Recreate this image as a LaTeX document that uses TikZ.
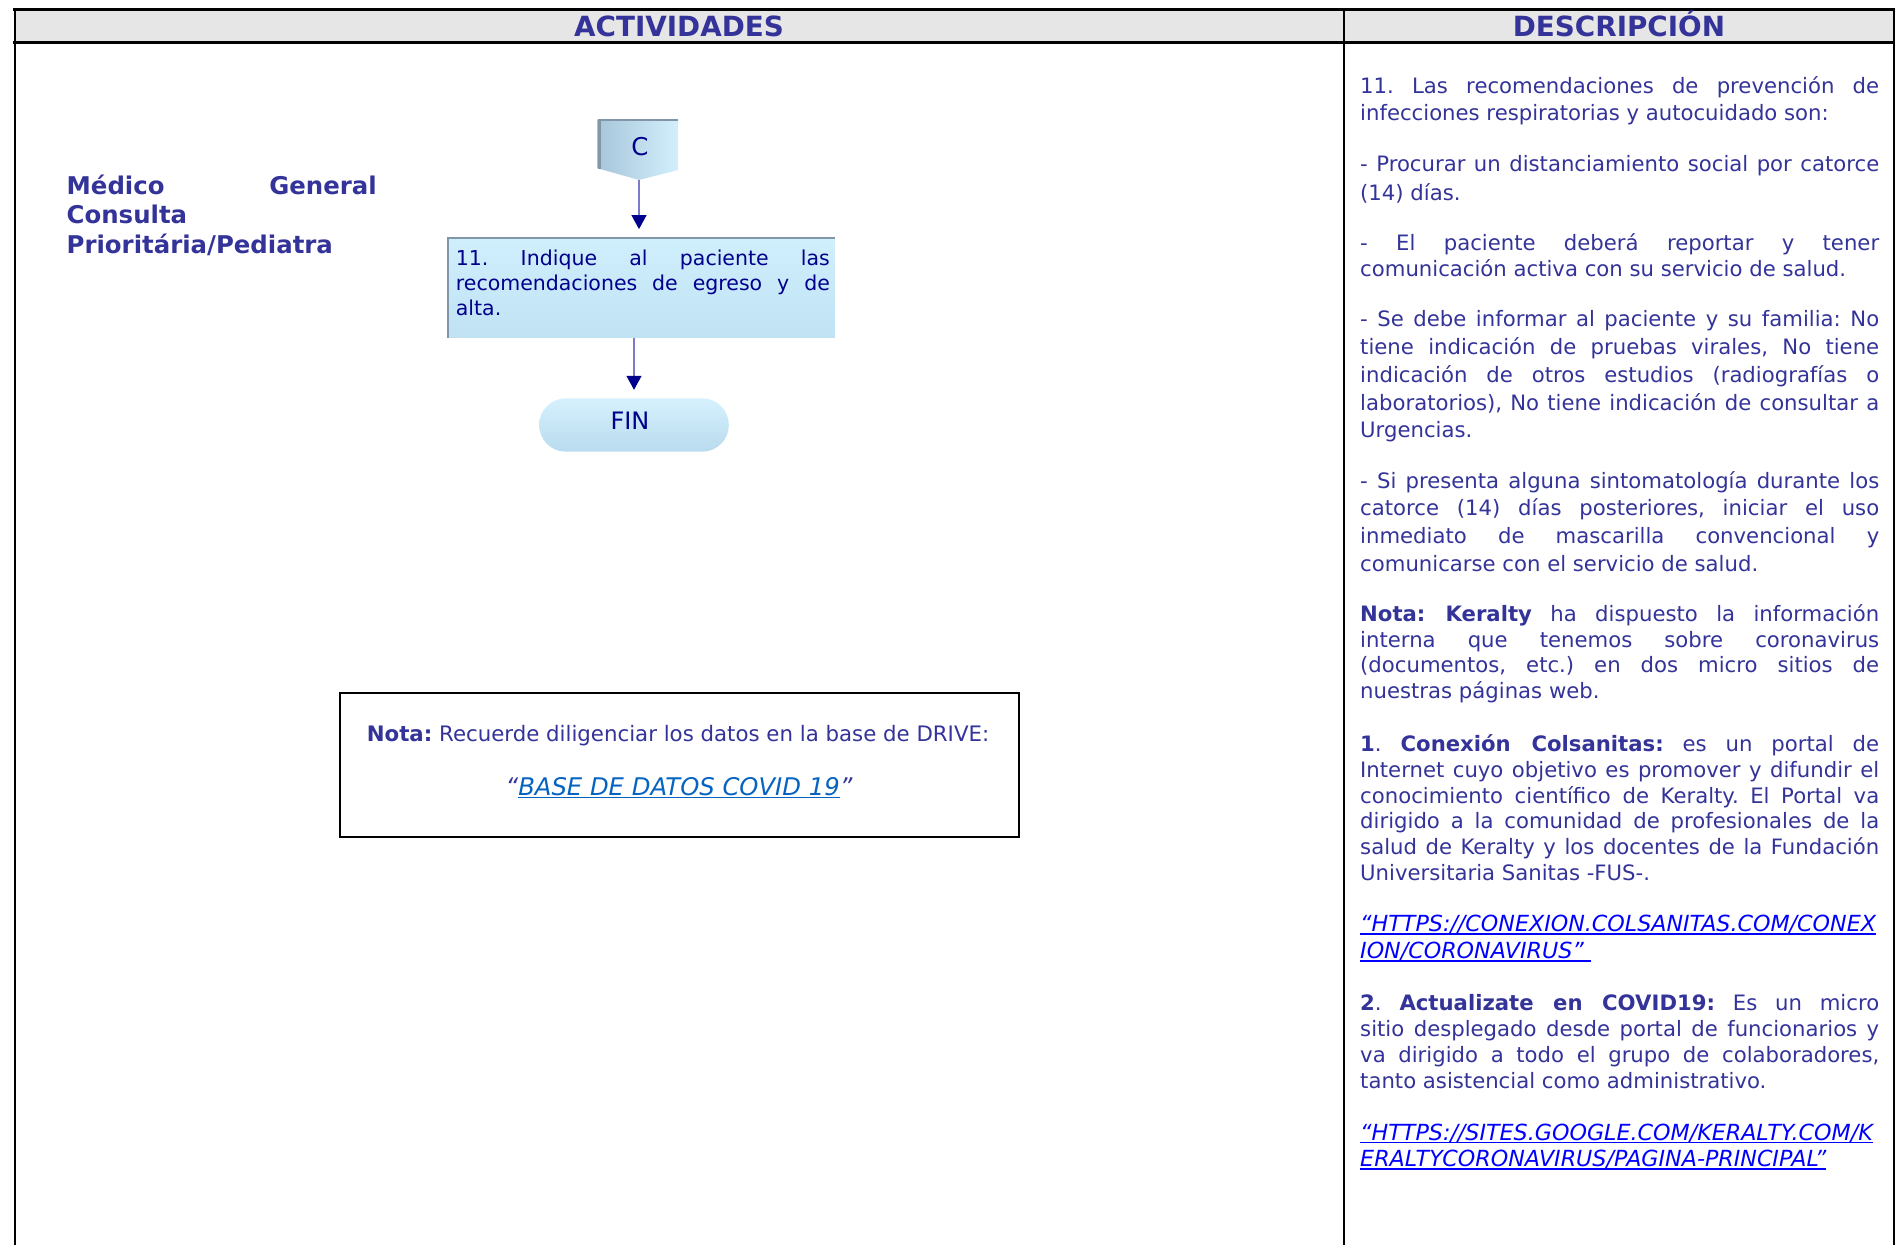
\documentclass[tikz,border=0pt]{standalone}
\usepackage{fontspec}
\setmainfont{DejaVu Sans}
\usetikzlibrary{arrows.meta,shapes.misc}
\definecolor{hdr}{HTML}{333399}
\definecolor{txt}{HTML}{333399}
\definecolor{navy}{HTML}{00008C}
\definecolor{linkblue}{HTML}{0000FF}
\definecolor{linkdrive}{HTML}{0563C1}
\definecolor{hdrfill}{HTML}{E6E6E6}
\definecolor{arrline}{HTML}{7B7BC8}
\definecolor{bevel}{HTML}{8396A8}
\definecolor{cdark}{HTML}{A6C6DA}
\definecolor{clight}{HTML}{D3EFFC}
\definecolor{boxtop}{HTML}{D0EFFD}
\definecolor{boxbot}{HTML}{C0E2F3}
\definecolor{fintop}{HTML}{D5F1FD}
\definecolor{finbot}{HTML}{B9DBEE}
\tolerance=10000
\hbadness=10000
\hyphenpenalty=10000
\exhyphenpenalty=10000
\newsavebox{\myulbox}
\newcommand\myul[1]{\leavevmode\sbox{\myulbox}{#1}\rlap{\raisebox{-3.2pt}{\rule{\wd\myulbox}{1.5pt}}}\usebox{\myulbox}}
\begin{document}
\frenchspacing
\begin{tikzpicture}[x=1pt,y=-1pt,
  hdrtext/.style={anchor=base,inner sep=0pt,text=hdr,font=\fontsize{27.8}{30}\selectfont\bfseries},
  desc/.style={anchor=base west,text width=519pt,align=justify,inner sep=0pt,text=txt},
  urltext/.style={anchor=base west,text width=530pt,align=left,inner sep=0pt,text=linkblue},
  conn/.style={draw=arrline,line width=1.2pt,-{Triangle[length=14pt,width=15pt,color=navy]}},
  stepbox/.style={rectangle,inner sep=0pt,minimum width=386.7pt,minimum height=99pt,top color=boxtop,bottom color=boxbot},
  finbox/.style={rounded rectangle,inner sep=0pt,minimum width=189.7pt,minimum height=53.4pt,top color=fintop,bottom color=finbot}
]
\useasboundingbox (0,0) rectangle (1897,1245);
\fill[white] (0,0) rectangle (1897,1245);
% header band and table lines
\fill[hdrfill] (14.5,9) rectangle (1894,42.5);
\draw[line width=2.6pt] (13.2,9.2) -- (1895.3,9.2);
\draw[line width=2.6pt] (13.2,42.5) -- (1895.3,42.5);
\draw[line width=2pt] (14.5,8) -- (14.5,1245);
\draw[line width=2pt] (1343.5,8) -- (1343.5,1245);
\draw[line width=2pt] (1894,8) -- (1894,1245);
\node[hdrtext] (h1) at (679,36.5) {ACTIVIDADES};
\node[hdrtext] (h2) at (1619,36.5) {DESCRIPCIÓN};
% role label
\node[anchor=base west,text width=310pt,align=justify,inner sep=0pt,text=txt,font=\fontsize{24.4}{29.5}\selectfont\bfseries] (role) at (66.5,194.3) {Médico General\linebreak Consulta\\ Prioritária/Pediatra};
% connector C (off-page)
\shade[left color=cdark,right color=clight] (597.7,119.3) -- (678,119.3) -- (678,170) -- (639,180) -- (597.7,168.3) -- cycle;
\draw[bevel,line width=3.5pt] (599.4,168.8) -- (599.4,120.5);
\draw[bevel,line width=2pt] (597.7,120.3) -- (678,120.3);
\node[text=navy,font=\fontsize{24.5}{24}\selectfont,inner sep=0pt] (C) at (640,146.7) {C};
\coordinate (Ctip) at (639,180);
% step 11
\node[stepbox] (b11) at (641.6,287.8) {};
\draw[bevel,line width=2pt] (b11.south west) -- (b11.north west) -- (b11.north east);
\node[anchor=base west,text width=374pt,align=justify,inner sep=0pt,text=navy,font=\fontsize{20.5}{25}\selectfont] (t11) at (455.7,265) {11. Indique al paciente las\linebreak recomendaciones de egreso y de\linebreak alta.};
% end
\node[finbox] (fin) at (634,425) {};
\node[text=navy,font=\fontsize{24}{24}\selectfont,inner sep=0pt] (fintext) at (630,420.5) {FIN};
\draw[conn,shorten >=9pt] (Ctip) -- (Ctip |- b11.north);
\draw[conn,shorten >=8.3pt] (fin.north |- b11.south) -- (fin.north);
% note box
\node[draw,line width=2pt,minimum width=679pt,minimum height=143.7pt,inner sep=0pt] (nota) at (679.5,764.9) {};
\node[anchor=base,inner sep=0pt,text=txt,font=\fontsize{21.3}{24}\selectfont] (n1) at (678,741.7) {\textbf{Nota:} Recuerde diligenciar los datos en la base de DRIVE:};
\node[anchor=base,inner sep=0pt,text=txt,font=\fontsize{24.3}{26}\selectfont\itshape] (n2) at (679,795) {“\textcolor{linkdrive}{\myul{BASE DE DATOS COVID 19}}”};
% description
\node[desc,font=\fontsize{21.2}{26.7}\selectfont] (d1) at (1360,93.3) {11. Las recomendaciones de prevención de\linebreak infecciones respiratorias y autocuidado son:};
\node[desc,font=\fontsize{21.2}{28.3}\selectfont] (d2) at (1360,171.7) {- Procurar un distanciamiento social por catorce\linebreak (14) días.};
\node[desc,font=\fontsize{21.2}{26.7}\selectfont] (d3) at (1360,250) {- El paciente deberá reportar y tener\linebreak comunicación activa con su servicio de salud.};
\node[desc,font=\fontsize{21.2}{27.8}\selectfont] (d4) at (1360,326.7) {- Se debe informar al paciente y su familia: No\linebreak tiene indicación de pruebas virales, No tiene\linebreak indicación de otros estudios (radiografías o\linebreak laboratorios), No tiene indicación de consultar a\linebreak Urgencias.};
\node[desc,font=\fontsize{21.2}{27.9}\selectfont] (d5) at (1360,488) {- Si presenta alguna sintomatología durante los\linebreak catorce (14) días posteriores, iniciar el uso\linebreak inmediato de mascarilla convencional y\linebreak comunicarse con el servicio de salud.};
\node[desc,font=\fontsize{21.2}{25.5}\selectfont] (d6) at (1360,621.7) {\textbf{Nota: Keralty} ha dispuesto la información\linebreak interna que tenemos sobre coronavirus\linebreak (documentos, etc.) en dos micro sitios de\linebreak nuestras páginas web.};
\node[desc,font=\fontsize{21.2}{25.7}\selectfont] (d7) at (1360,751.7) {\textbf{1}. \textbf{Conexión Colsanitas:} es un portal de\linebreak Internet cuyo objetivo es promover y difundir el\linebreak conocimiento científico de Keralty. El Portal va\linebreak dirigido a la comunidad de profesionales de la\linebreak salud de Keralty y los docentes de la Fundación\linebreak Universitaria Sanitas -FUS-.};
\node[urltext,font=\fontsize{22.2}{26.7}\selectfont\itshape] (u1) at (1360,931.7) {\myul{“HTTPS://CONEXION.COLSANITAS.COM/CONEX}\\ \myul{ION/CORONAVIRUS”\ }};
\node[desc,font=\fontsize{21.2}{26.1}\selectfont] (d8) at (1360,1010) {\textbf{2}. \textbf{Actualizate en COVID19:} Es un micro\linebreak sitio desplegado desde portal de funcionarios y\linebreak va dirigido a todo el grupo de colaboradores,\linebreak tanto asistencial como administrativo.};
\node[urltext,font=\fontsize{22.2}{26.7}\selectfont\itshape] (u2) at (1360,1140) {\myul{“HTTPS://SITES.GOOGLE.COM/KERALTY.COM/K}\\ \myul{ERALTYCORONAVIRUS/PAGINA-PRINCIPAL”}};
\end{tikzpicture}
\end{document}
